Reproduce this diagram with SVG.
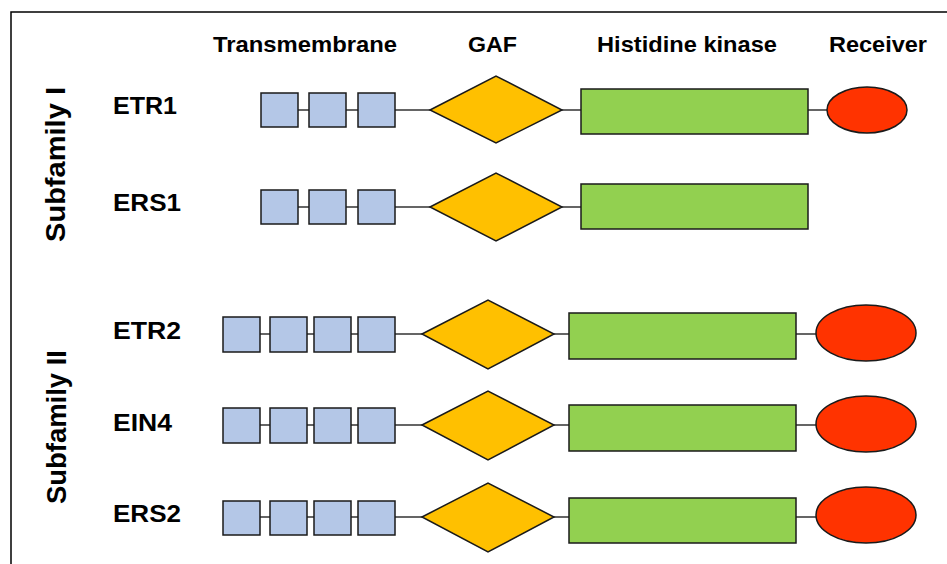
<svg xmlns="http://www.w3.org/2000/svg" width="947" height="564" viewBox="0 0 947 564">
<style>
text{font-family:"Liberation Sans",Arial,sans-serif;font-weight:bold;fill:#000}
.hd{font-size:22px}
.lb{font-size:24px}
.sf{font-size:28px}
.tm{fill:#B4C7E7;stroke:#1a1a1a;stroke-width:1.5}
.gaf{fill:#FFC000;stroke:#1a1a1a;stroke-width:1.5}
.hk{fill:#92D050;stroke:#1a1a1a;stroke-width:1.5}
.rc{fill:#FF3300;stroke:#1a1a1a;stroke-width:1.5}
.cn{stroke:#333;stroke-width:1.5;fill:none}
</style>
<rect x="11" y="12" width="960" height="580" fill="#fff" stroke="#000" stroke-width="1.5"/>
<g id="headers">
<text class="hd" x="213" y="52" textLength="184" lengthAdjust="spacingAndGlyphs">Transmembrane</text>
<text class="hd" x="468" y="52" textLength="49" lengthAdjust="spacingAndGlyphs">GAF</text>
<text class="hd" x="597" y="52" textLength="180" lengthAdjust="spacingAndGlyphs">Histidine kinase</text>
<text class="hd" x="829" y="52" textLength="98" lengthAdjust="spacingAndGlyphs">Receiver</text>
</g>
<g id="subfamily-labels">
<text class="sf" transform="translate(65,242) rotate(-90)" textLength="155" lengthAdjust="spacingAndGlyphs">Subfamily I</text>
<text class="sf" transform="translate(66,504) rotate(-90)" textLength="154" lengthAdjust="spacingAndGlyphs">Subfamily II</text>
</g>
<g id="connectors">
<path class="cn" d="M298 110H309M346 110H358M395 110H430M562 110H581M808 110H827"/>
<path class="cn" d="M298 207H309M346 207H358M395 207H430M562 207H581"/>
<path class="cn" d="M260 334H270M307 334H314M351 334H358M395 334H422M554 334H569M796 334H816"/>
<path class="cn" d="M260 425H270M307 425H314M351 425H358M395 425H422M554 425H569M796 425H816"/>
<path class="cn" d="M260 517H270M307 517H314M351 517H358M395 517H422M554 517H569M796 517H816"/>
</g>
<g id="ETR1">
<text class="lb" x="113" y="114" textLength="64" lengthAdjust="spacingAndGlyphs">ETR1</text>
<rect class="tm" x="261" y="93" width="37" height="34"/>
<rect class="tm" x="309" y="93" width="37" height="34"/>
<rect class="tm" x="358" y="93" width="37" height="34"/>
<polygon class="gaf" points="430,110 496,76 562,110 496,143"/>
<rect class="hk" x="581" y="89" width="227" height="45"/>
<ellipse class="rc" cx="867" cy="110" rx="40" ry="23"/>
</g>
<g id="ERS1">
<text class="lb" x="113" y="211" textLength="68" lengthAdjust="spacingAndGlyphs">ERS1</text>
<rect class="tm" x="261" y="190" width="37" height="34"/>
<rect class="tm" x="309" y="190" width="37" height="34"/>
<rect class="tm" x="358" y="190" width="37" height="34"/>
<polygon class="gaf" points="430,207 496,173 562,207 496,241"/>
<rect class="hk" x="581" y="184" width="227" height="45"/>
</g>
<g id="ETR2">
<text class="lb" x="113" y="339" textLength="68" lengthAdjust="spacingAndGlyphs">ETR2</text>
<rect class="tm" x="223" y="317" width="37" height="35"/>
<rect class="tm" x="270" y="317" width="37" height="35"/>
<rect class="tm" x="314" y="317" width="37" height="35"/>
<rect class="tm" x="358" y="317" width="37" height="35"/>
<polygon class="gaf" points="422,334 488,300 554,334 488,369"/>
<rect class="hk" x="569" y="313" width="227" height="46"/>
<ellipse class="rc" cx="866" cy="333" rx="50" ry="28"/>
</g>
<g id="EIN4">
<text class="lb" x="113" y="431" textLength="59" lengthAdjust="spacingAndGlyphs">EIN4</text>
<rect class="tm" x="223" y="408" width="37" height="35"/>
<rect class="tm" x="270" y="408" width="37" height="35"/>
<rect class="tm" x="314" y="408" width="37" height="35"/>
<rect class="tm" x="358" y="408" width="37" height="35"/>
<polygon class="gaf" points="422,425 488,391 554,425 488,460"/>
<rect class="hk" x="569" y="405" width="227" height="46"/>
<ellipse class="rc" cx="866" cy="424" rx="50" ry="28"/>
</g>
<g id="ERS2">
<text class="lb" x="113" y="522" textLength="68" lengthAdjust="spacingAndGlyphs">ERS2</text>
<rect class="tm" x="223" y="501" width="37" height="34"/>
<rect class="tm" x="270" y="501" width="37" height="34"/>
<rect class="tm" x="314" y="501" width="37" height="34"/>
<rect class="tm" x="358" y="501" width="37" height="34"/>
<polygon class="gaf" points="422,517 488,483 554,517 488,552"/>
<rect class="hk" x="569" y="498" width="227" height="45"/>
<ellipse class="rc" cx="866" cy="515" rx="50" ry="28"/>
</g>
</svg>
